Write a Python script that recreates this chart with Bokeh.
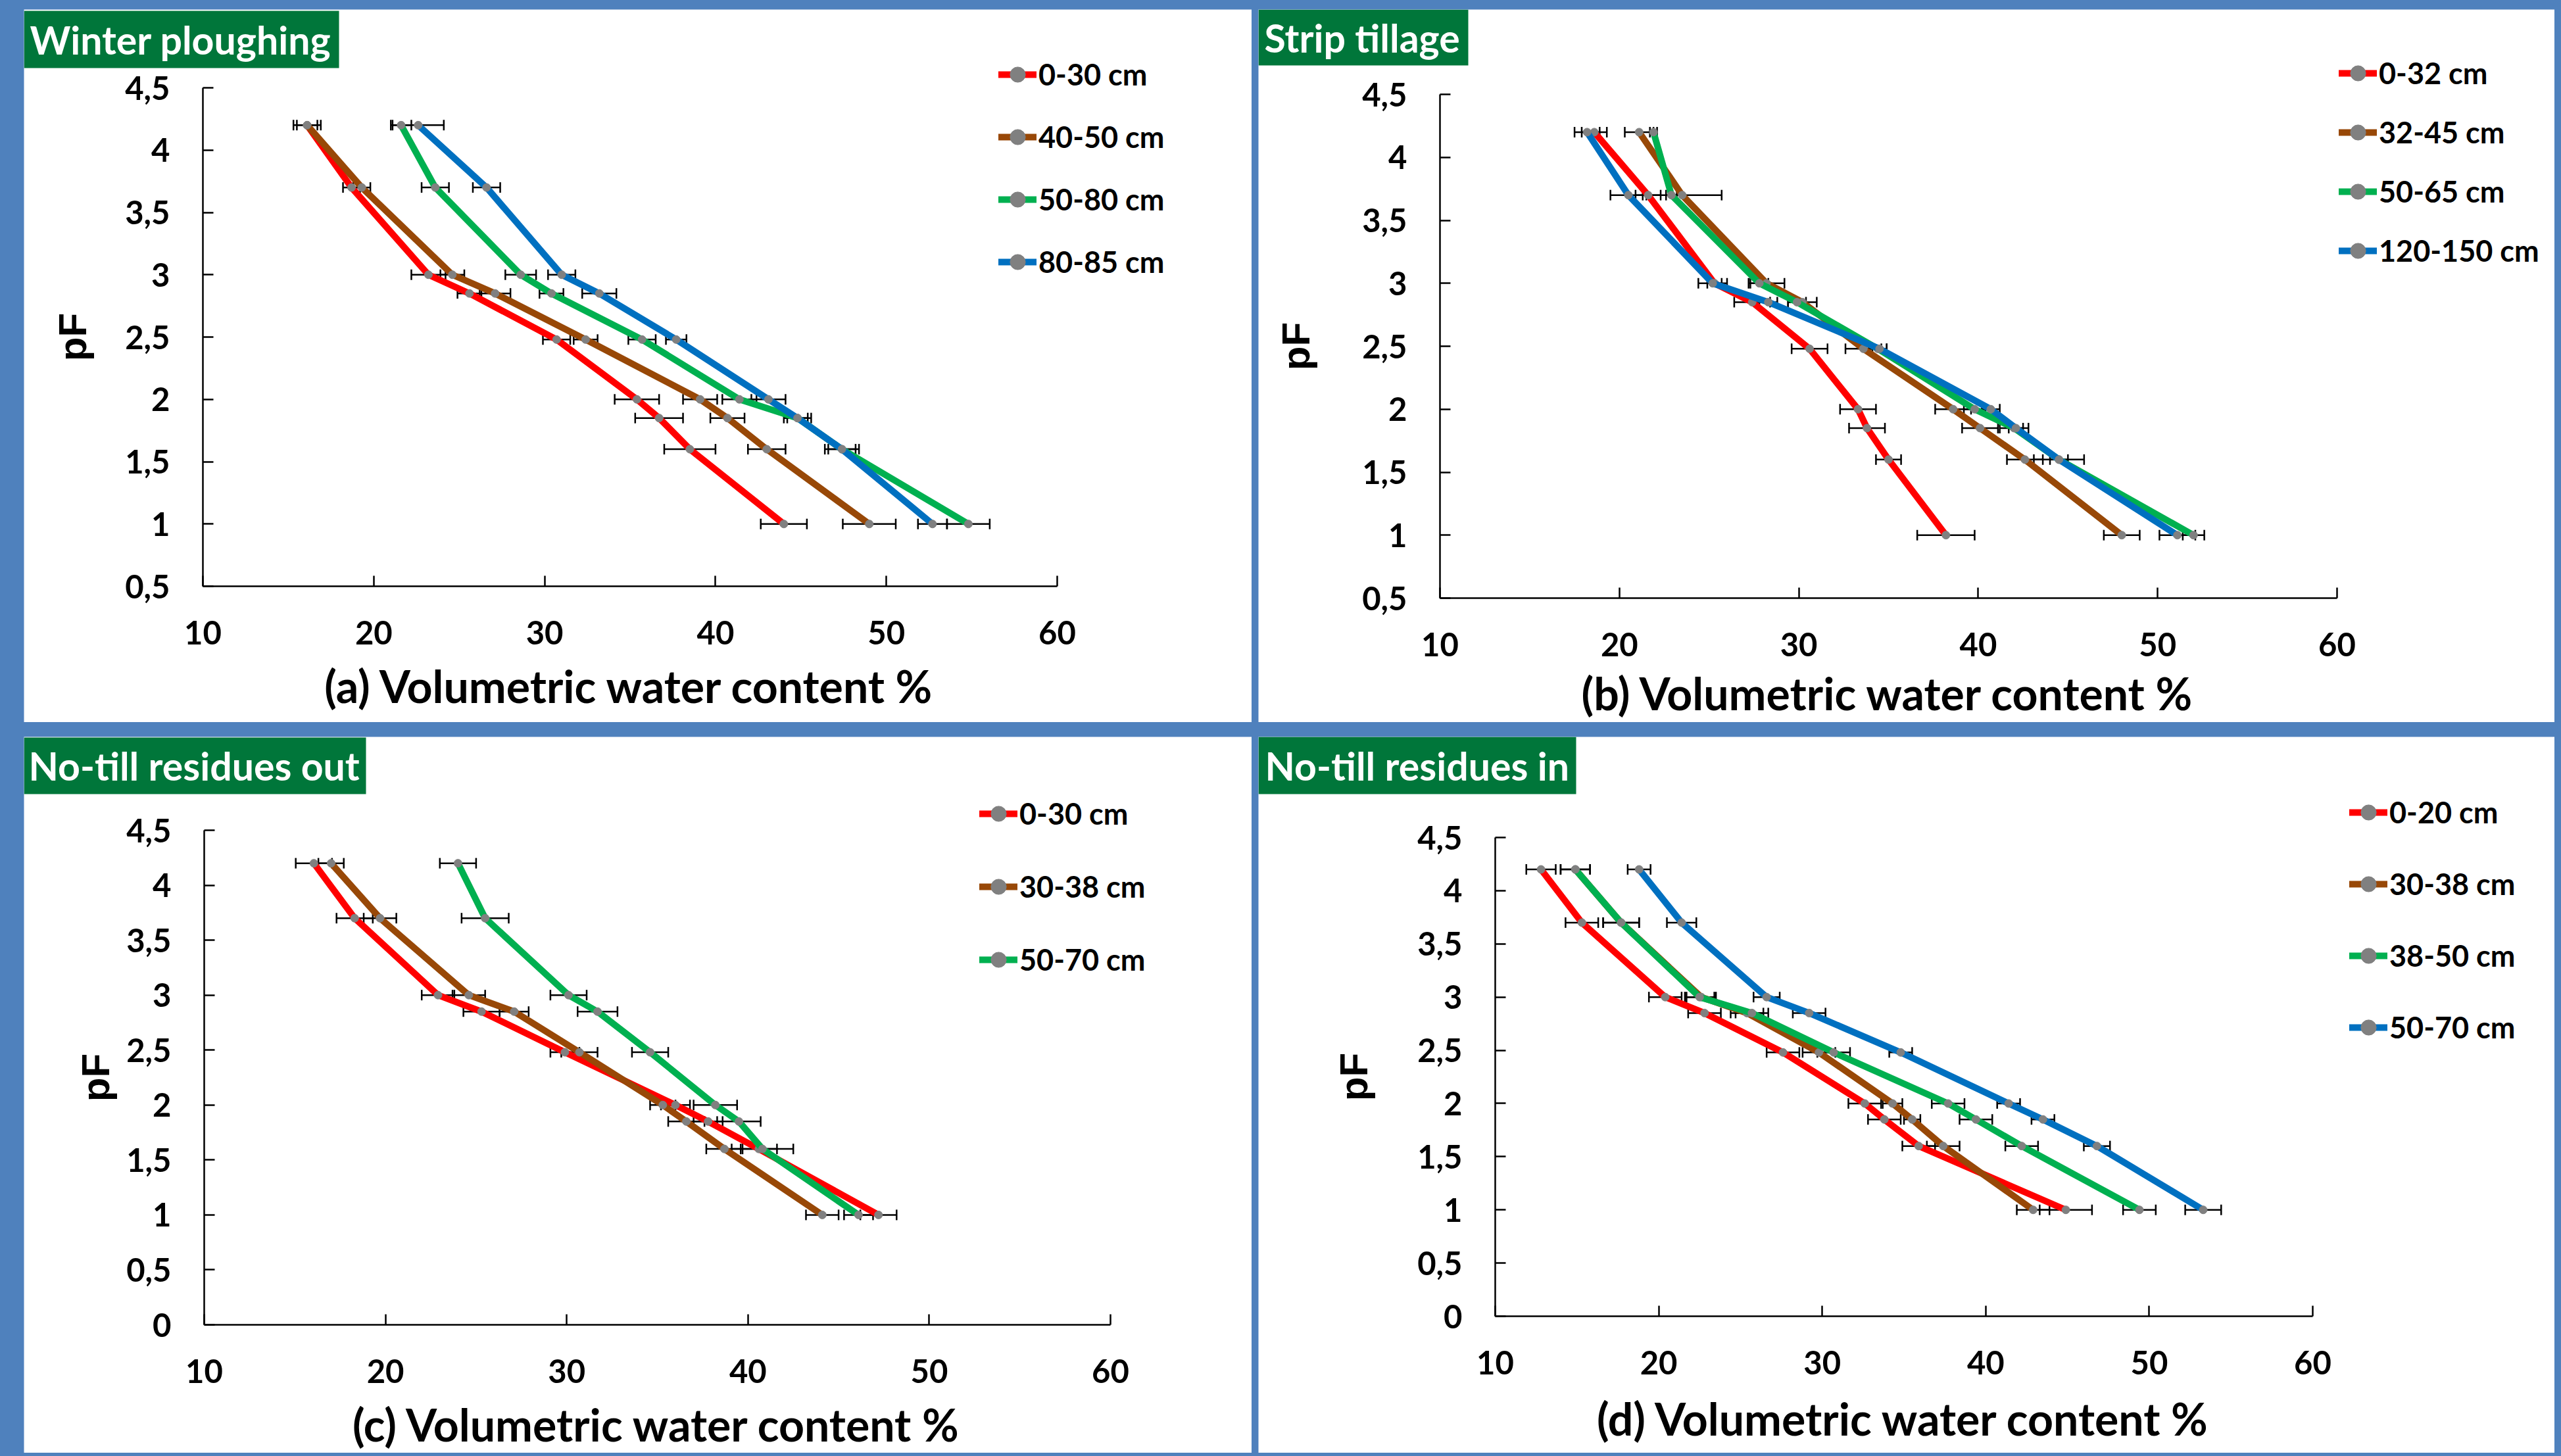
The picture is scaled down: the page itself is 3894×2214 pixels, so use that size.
from bokeh.plotting import figure
from bokeh.models import (ColumnDataSource, Whisker, TeeHead, Legend, LegendItem,
                          Label, BoxAnnotation, FixedTicker, Spacer, Range1d)
from bokeh.layouts import row, column
from bokeh.embed import file_html
from bokeh.resources import INLINE

# ---------------- data ----------------
PF = [4.2, 3.7, 3.0, 2.85, 2.48, 2.0, 1.85, 1.6, 1.0]

XTICKS = [10, 20, 30, 40, 50, 60]
YTICKS = [0, 0.5, 1, 1.5, 2, 2.5, 3, 3.5, 4, 4.5]
YTICK_LABELS = ["0", "0,5", "1", "1,5", "2", "2,5", "3", "3,5", "4", "4,5"]

# (a) Winter ploughing
A_LABELS = ["0-30 cm", "40-50 cm", "50-80 cm", "80-85 cm"]
a_red = [16.1, 18.7, 23.2, 25.6, 30.7, 35.4, 36.7, 38.5, 44.0]
a_brown = [16.1, 19.3, 24.6, 27.1, 32.4, 39.1, 40.7, 43.0, 49.0]
a_green = [21.6, 23.6, 28.6, 30.4, 35.7, 41.4, 44.8, 47.4, 54.8]
a_blue = [22.6, 26.6, 31.0, 33.2, 37.7, 43.1, 44.8, 47.4, 52.7]
a_red_err = [0.8, 0.5, 1.0, 0.7, 0.8, 1.3, 1.4, 1.5, 1.35]
a_brown_err = [0.6, 0.5, 0.7, 0.9, 0.7, 1.0, 1.0, 1.1, 1.55]
a_green_err = [0.6, 0.8, 0.9, 0.7, 0.8, 1.0, 0.8, 1.0, 1.25]
a_blue_err = [1.5, 0.8, 0.8, 1.0, 0.6, 1.0, 0.6, 0.8, 0.85]

# (b) Strip tillage
B_LABELS = ["0-32 cm", "32-45 cm", "50-65 cm", "120-150 cm"]
b_red = [18.6, 21.6, 25.3, 27.4, 30.6, 33.3, 33.8, 35.0, 38.2]
b_brown = [21.1, 23.5, 28.2, 30.2, 33.6, 38.6, 40.1, 42.6, 48.0]
b_green = [21.9, 22.9, 27.8, 29.9, 34.4, 39.8, 42.0, 44.5, 52.0]
b_blue = [18.2, 20.5, 25.2, 28.3, 34.5, 40.7, 42.1, 44.5, 51.1]
b_red_err = [0.7, 0.7, 0.4, 1.0, 1.0, 1.0, 1.0, 0.7, 1.6]
b_brown_err = [0.8, 2.2, 1.0, 0.8, 1.0, 1.0, 1.0, 1.0, 1.0]
b_green_err = [0.2, 0.3, 0.5, 0.5, 0.5, 0.6, 0.8, 1.4, 0.6]
b_blue_err = [0.7, 1.0, 0.8, 0.5, 0.4, 0.5, 0.4, 0.5, 1.0]

# (c) No-till residues out
C_LABELS = ["0-30 cm", "30-38 cm", "50-70 cm"]
c_red = [16.05, 18.3, 22.9, 25.3, 29.9, 36.0, 37.8, 40.6, 47.2]
c_brown = [17.0, 19.7, 24.6, 27.1, 30.7, 35.3, 36.6, 38.7, 44.1]
c_green = [24.0, 25.5, 30.1, 31.7, 34.6, 38.2, 39.5, 40.8, 46.1]
c_red_err = [1.0, 1.0, 0.9, 1.0, 0.8, 0.8, 0.8, 1.0, 1.0]
c_brown_err = [0.7, 0.9, 0.9, 0.8, 1.0, 0.7, 1.0, 1.0, 0.9]
c_green_err = [1.0, 1.3, 1.0, 1.1, 1.0, 1.2, 1.2, 1.7, 0.8]

# (d) No-till residues in
D_LABELS = ["0-20 cm", "30-38 cm", "38-50 cm", "50-70 cm"]
d_red = [12.8, 15.3, 20.4, 22.8, 27.6, 32.6, 33.8, 35.9, 44.9]
d_brown = [14.9, 17.7, 22.6, 25.4, 29.8, 34.3, 35.5, 37.4, 42.9]
d_green = [14.9, 17.7, 22.5, 25.7, 30.7, 37.7, 39.4, 42.2, 49.4]
d_blue = [18.8, 21.4, 26.6, 29.2, 34.8, 41.4, 43.5, 46.8, 53.3]
d_red_err = [0.9, 1.0, 1.0, 1.0, 1.0, 1.0, 1.0, 1.0, 1.6]
d_brown_err = [0.9, 1.1, 0.9, 1.0, 1.0, 0.6, 0.5, 1.0, 1.0]
d_green_err = [0.9, 1.1, 0.9, 1.0, 1.0, 1.0, 1.0, 1.0, 1.0]
d_blue_err = [0.7, 0.9, 0.8, 1.0, 0.7, 0.7, 0.7, 0.8, 1.1]

# ---------------- style ----------------
RED, BROWN, GREEN, BLUE = "#FF0000", "#984807", "#00B050", "#0070C0"
MARKER = "#808080"
TITLE_BG = "#00763A"
PAGE_BG = "#4F81BD"
FONT = "Lato"
ITEM_H = 60
XMIN, XMAX, YMAX = 10, 60, 4.5


def make_panel(title, xlabel, labels, series, errors, colors, ymin, cfg):
    W, H = cfg["w"], cfg["h"]
    # pixel geometry of the axes inside the white panel (top-left origin)
    x0px, x1px, ytop_px, ybot_px = cfg["ax"]
    ppu_x = (x1px - x0px) / (XMAX - XMIN)
    ppu_y = (ybot_px - ytop_px) / (YMAX - ymin)
    xs = XMIN - x0px / ppu_x
    ye = YMAX + ytop_px / ppu_y

    def px2x(px):
        return xs + px / ppu_x

    def py2y(py):
        return ye - py / ppu_y

    p = figure(width=W, height=H,
               x_range=Range1d(xs, xs + W / ppu_x),
               y_range=Range1d(ye - H / ppu_y, ye),
               output_backend="svg", toolbar_location=None, min_border=0)
    p.background_fill_color = "white"
    p.border_fill_color = "white"
    p.outline_line_color = None
    p.grid.visible = False

    xa, ya = p.xaxis[0], p.yaxis[0]
    xa.fixed_location = ymin
    ya.fixed_location = XMIN
    xa.bounds = (XMIN, XMAX)
    ya.bounds = (ymin, YMAX)
    xa.ticker = FixedTicker(ticks=XTICKS)
    ya.ticker = FixedTicker(ticks=[t for t in YTICKS if t >= ymin])
    ya.major_label_overrides = {t: lab for t, lab in zip(YTICKS, YTICK_LABELS) if t >= ymin}

    for ax in (xa, ya):
        ax.axis_line_color = "black"
        ax.axis_line_width = 2.5
        ax.major_tick_in = 16
        ax.major_tick_out = 0
        ax.major_tick_line_color = "black"
        ax.major_tick_line_width = 2.5
        ax.minor_tick_line_color = None
        ax.major_label_text_font = FONT
        ax.major_label_text_font_style = "bold"
        ax.major_label_text_font_size = "49px"
        ax.major_label_text_color = "black"

    xa.major_label_standoff = 52
    ya.major_label_standoff = 50
    xa.axis_label = xlabel
    xa.axis_label_text_font = FONT
    xa.axis_label_text_font_style = "bold"
    xa.axis_label_text_font_size = "68px"
    xa.axis_label_text_color = "black"
    xa.axis_label_standoff = cfg["xls"]
    ya.axis_label = "pF"
    ya.axis_label_text_font = "Liberation Sans"
    ya.axis_label_text_font_style = "bold"
    ya.axis_label_text_font_size = "60px"
    ya.axis_label_text_color = "black"
    ya.axis_label_standoff = cfg["yls"]

    items = []
    for lab, vals, errs, col in zip(labels, series, errors, colors):
        src = ColumnDataSource(dict(
            x=vals, y=PF,
            lo=[v - e for v, e in zip(vals, errs)],
            hi=[v + e for v, e in zip(vals, errs)]))
        w = Whisker(source=src, base="y", lower="lo", upper="hi",
                    dimension="width", line_color="black", line_width=2.5,
                    upper_head=TeeHead(size=16, line_color="black", line_width=2.5),
                    lower_head=TeeHead(size=16, line_color="black", line_width=2.5))
        p.add_layout(w)
        rl = p.line("x", "y", source=src, line_color=col, line_width=10,
                    line_cap="round", line_join="round")
        rs = p.scatter("x", "y", source=src, marker="circle", size=12,
                       fill_color=MARKER, line_color=MARKER)
        items.append(LegendItem(label=lab, renderers=[rl, rs]))

    n = len(items)
    leg_h = n * ITEM_H + (n - 1) * cfg["lsp"]
    ltop = H - (cfg["l1"] - ITEM_H / 2)          # legend top, measured up from bottom
    leg = Legend(items=items, location=(cfg["lx"], ltop - leg_h),
                 orientation="vertical",
                 border_line_color=None, background_fill_alpha=0,
                 padding=0, margin=0, spacing=cfg["lsp"],
                 glyph_width=58, glyph_height=ITEM_H, label_height=ITEM_H,
                 label_standoff=3, label_text_font=FONT,
                 label_text_font_style="bold", label_text_font_size="45px",
                 label_text_color="black")
    p.add_layout(leg)

    # green title box + white title text
    bl, br, bt, bb = cfg["tbox"]
    p.add_layout(BoxAnnotation(left=px2x(bl), right=px2x(br), top=py2y(bt), bottom=py2y(bb),
                               fill_color=TITLE_BG, fill_alpha=1.0, line_color=None))
    p.add_layout(Label(x=bl + cfg["tx"], y=H - (bt + bb) / 2, x_units="screen", y_units="screen",
                       text=title, text_color="white", text_font=FONT,
                       text_font_style="bold", text_font_size="59px",
                       text_align="left", text_baseline="middle"))
    return p


pa = make_panel("Winter ploughing", "(a) Volumetric water content %", A_LABELS,
                [a_red, a_brown, a_green, a_blue],
                [a_red_err, a_brown_err, a_green_err, a_blue_err],
                [RED, BROWN, GREEN, BLUE], 0.5,
                dict(w=1867, h=1084, ax=(272, 1571, 119, 877), xls=19, yls=43,
                     lx=1482, l1=99, lsp=35, tbox=(0, 479, 2, 89), tx=9))
pb = make_panel("Strip tillage", "(b) Volumetric water content %", B_LABELS,
                [b_red, b_brown, b_green, b_blue],
                [b_red_err, b_brown_err, b_green_err, b_blue_err],
                [RED, BROWN, GREEN, BLUE], 0.5,
                dict(w=1971, h=1084, ax=(276, 1640, 129, 895), xls=12, yls=64,
                     lx=1643, l1=97, lsp=30, tbox=(0, 319, 0, 85), tx=9))
pc = make_panel("No-till residues out", "(c) Volumetric water content %", C_LABELS,
                [c_red, c_brown, c_green],
                [c_red_err, c_brown_err, c_green_err],
                [RED, BROWN, GREEN], 0.0,
                dict(w=1867, h=1089, ax=(274, 1652, 142, 894), xls=19, yls=10,
                     lx=1453, l1=117, lsp=51, tbox=(0, 520, 1, 87), tx=7))
pd_ = make_panel("No-till residues in", "(d) Volumetric water content %", D_LABELS,
                 [d_red, d_brown, d_green, d_blue],
                 [d_red_err, d_brown_err, d_green_err, d_blue_err],
                 [RED, BROWN, GREEN, BLUE], 0.0,
                 dict(w=1971, h=1089, ax=(360, 1603, 153, 881), xls=23, yls=60,
                      lx=1659, l1=115, lsp=49, tbox=(0, 483, 0, 87), tx=10))

row1 = row(Spacer(width=36, height=1), pa, Spacer(width=10, height=1), pb)
row2 = row(Spacer(width=36, height=1), pc, Spacer(width=10, height=1), pd_)
root = column(Spacer(width=1, height=14), row1, Spacer(width=1, height=22), row2)

html = file_html(root, INLINE, title="pF curves")
html = html.replace(
    "</head>",
    "<style>html, body { margin: 0; padding: 0; background-color: %s; }</style>\n</head>" % PAGE_BG,
    1)
open("out.html", "w").write(html)
